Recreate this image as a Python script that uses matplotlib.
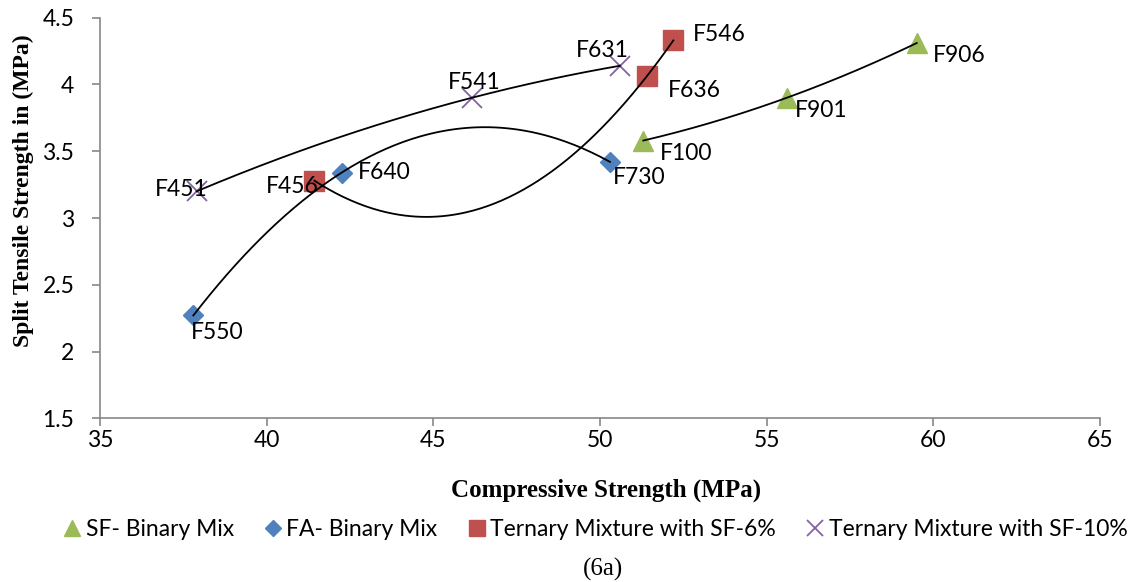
import numpy as np
import matplotlib
matplotlib.use("Agg")
import matplotlib.pyplot as plt
from matplotlib.lines import Line2D

# data
sf_names = ["F100", "F901", "F906"]
sf_x = [51.3, 55.6, 59.5]
sf_y = [3.58, 3.90, 4.31]

fa_names = ["F550", "F640", "F730"]
fa_x = [37.8, 42.25, 50.3]
fa_y = [2.27, 3.34, 3.42]

t6_names = ["F456", "F636", "F546"]
t6_x = [41.43, 51.4, 52.2]
t6_y = [3.28, 4.06, 4.33]

t10_names = ["F451", "F541", "F631"]
t10_x = [37.9, 46.15, 50.6]
t10_y = [3.20, 3.90, 4.14]

series_labels = [
    "SF- Binary Mix",
    "FA- Binary Mix",
    "Ternary Mixture with SF-6%",
    "Ternary Mixture with SF-10%",
]

# label offsets in points (dx, dy, ha)
label_offsets = {
    "F100": (12, -9, "left"), "F901": (6, -9, "left"), "F906": (12, -9, "left"),
    "F550": (-2, -12, "left"), "F640": (12, 0, "left"), "F730": (2, -11, "left"),
    "F456": (3, -4, "right"), "F636": (15, -10, "left"), "F546": (14, 4, "left"),
    "F451": (8, 1, "right"), "F541": (-17, 11, "left"), "F631": (6, 11, "right"),
}

label_font = "Lato"
fs = 16.5

fig = plt.figure(figsize=(11.33, 5.82), dpi=100)
ax = fig.add_axes([100 / 1133, 1 - 418.3 / 582, 1000 / 1133, 400.6 / 582])

series = [
    (sf_names, sf_x, sf_y, "^", "#9BBB59", 14, 1.0),
    (fa_names, fa_x, fa_y, "D", "#4F81BD", 10, 1.0),
    (t6_names, t6_x, t6_y, "s", "#C0504D", 14, 1.0),
    (t10_names, t10_x, t10_y, "x", "#8064A2", 14, 1.3),
]

handles = []
for (names, xs, ys, mk, col, ms, mew), lab in zip(series, series_labels):
    ax.plot(xs, ys, linestyle="none", marker=mk, color=col, markersize=ms,
            markeredgewidth=mew, zorder=2)
    # second order polynomial trend line
    coef = np.polyfit(xs, ys, 2)
    xx = np.linspace(min(xs), max(xs), 200)
    ax.plot(xx, np.polyval(coef, xx), color="black", linewidth=1.3, zorder=3)
    for n, x, y in zip(names, xs, ys):
        dx, dy, ha = label_offsets[n]
        ax.annotate(n, (x, y), xytext=(dx, dy), textcoords="offset points",
                    ha=ha, va="center", fontsize=fs, family=label_font, zorder=4)
    handles.append(Line2D([], [], linestyle="none", marker=mk, color=col,
                          markersize=ms * 0.8, markeredgewidth=mew, label=lab))

ax.set_xlim(35, 65)
ax.set_ylim(1.5, 4.5)
ax.set_xticks(np.arange(35, 66, 5))
ax.set_yticks(np.arange(1.5, 4.51, 0.5))
ax.set_yticklabels(["1.5", "2", "2.5", "3", "3.5", "4", "4.5"])

for s in ["top", "right"]:
    ax.spines[s].set_visible(False)
for s in ["left", "bottom"]:
    ax.spines[s].set_color("#888888")
    ax.spines[s].set_linewidth(1.2)
ax.tick_params(axis="both", colors="#888888", length=5.5, width=1.2,
               labelsize=fs, labelcolor="black")
for t in ax.get_xticklabels() + ax.get_yticklabels():
    t.set_family(label_font)
ax.tick_params(axis="x", pad=3)
ax.tick_params(axis="y", pad=13)

fig.text(606 / 1133, 1 - 490 / 582, "Compressive Strength (MPa)",
         ha="center", va="center", family="Liberation Serif",
         fontweight="bold", fontsize=18)
fig.text(23 / 1133, 1 - 191 / 582, "Split Tensile Strength in (MPa)",
         rotation=90, ha="center", va="center", family="Liberation Serif",
         fontweight="bold", fontsize=17)

fig.legend(handles=handles, loc="center", bbox_to_anchor=(594 / 1133, 1 - 530 / 582),
           ncol=4, frameon=False, handletextpad=0.1, columnspacing=1.2,
           handlelength=1.0, prop={"family": label_font, "size": fs})

fig.text(603 / 1133, 1 - 569 / 582, "(6a)", ha="center", va="center",
         family="Liberation Serif", fontsize=18)

fig.savefig("out.png", dpi=100)
